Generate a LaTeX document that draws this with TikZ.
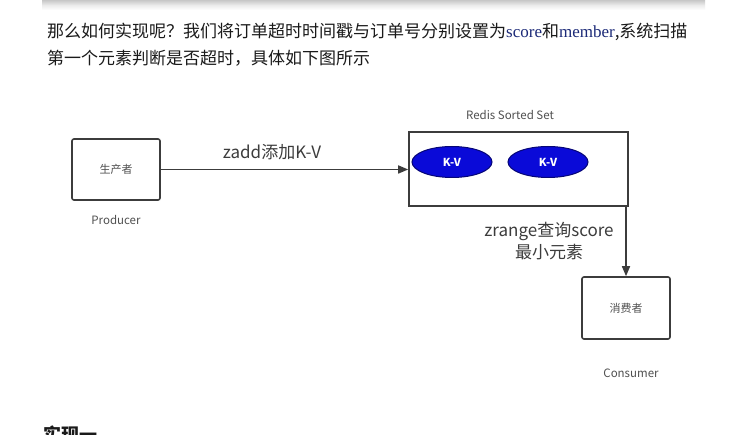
\documentclass[tikz,border=0pt]{standalone}
\usepackage{fontspec}
\setmainfont{Liberation Serif}
\newfontfamily\cjk{Noto Sans CJK SC}
\newfontfamily\lat{Liberation Serif}
\usetikzlibrary{arrows.meta,shapes.geometric}
\definecolor{txt}{HTML}{1A1A1A}
\definecolor{navy}{HTML}{1C2A78}
\definecolor{ln}{HTML}{3C3C3C}
\definecolor{lbl}{HTML}{505050}
\definecolor{kvblue}{HTML}{0A0AD8}
\begin{document}
\begin{tikzpicture}[x=1pt,y=-1pt,
 box/.style={draw=ln, line width=1.6pt, rounded corners=2pt, minimum width=88pt, minimum height=61pt, inner sep=0pt, font=\cjk\fontsize{11}{13}\selectfont, text=lbl},
 setbox/.style={draw=ln, line width=1.6pt, minimum width=219pt, minimum height=74pt, inner sep=0pt},
 kv/.style={ellipse, draw=kvblue!55!black, fill=kvblue, line width=1pt, minimum width=80pt, minimum height=31pt, inner sep=0pt, text=white, font=\cjk\bfseries\fontsize{11}{13}\selectfont},
 nlabel/.style={font=\cjk\fontsize{11.5}{13}\selectfont, text=lbl},
 edgelbl/.style={font=\cjk\fontsize{17}{22}\selectfont, text=ln, align=center},
 para/.style={anchor=base west, inner sep=0pt, font=\cjk\fontsize{17}{20}\selectfont, text=txt},
 conn/.style={draw=ln, line width=1.6pt, -{Triangle[length=10pt,width=8pt]}}
]
\useasboundingbox (0,0) rectangle (729,435);
\fill[white] (0,0) rectangle (729,435);
\shade[top color=black!22, bottom color=white, middle color=black!8] (42,0) rectangle (705,10);
% paragraph
\node[para] (p1) at (47,38) {那么如何实现呢？我们将订单超时时间戳与订单号分别设置为{\lat\color{navy}score}和{\lat\color{navy}member},系统扫描};
\node[para] (p2) at (47,64.5) {第一个元素判断是否超时，具体如下图所示};
% diagram
\node[box] (prod) at (116,169.5) {生产者};
\node[nlabel] (prodcap) at (116,220) {Producer};
\node[setbox] (redis) at (518.5,169) {};
\node[nlabel] (redcap) at (510,115) {Redis Sorted Set};
\node[kv] (kv1) at (452,162) {K-V};
\node[kv] (kv2) at (548,162) {K-V};
\node[box, minimum height=62pt] (cons) at (626,308) {消费者};
\node[nlabel] (conscap) at (631,373) {Consumer};
\draw[conn] (prod.east) -- (redis.west |- prod.east);
\node[edgelbl] (zadd) at (272,152) {zadd添加K-V};
\draw[conn] (cons.north |- redis.south) -- (cons.north);
\node[edgelbl] (zrange) at (549,241) {zrange查询score\\最小元素};
% heading, cut off by the lower edge as in the reference
\node[anchor=base west, inner sep=0pt, font=\cjk\bfseries\fontsize{18}{20}\selectfont, text=txt] (h1) at (43,442) {实现一};
\end{tikzpicture}
\end{document}
